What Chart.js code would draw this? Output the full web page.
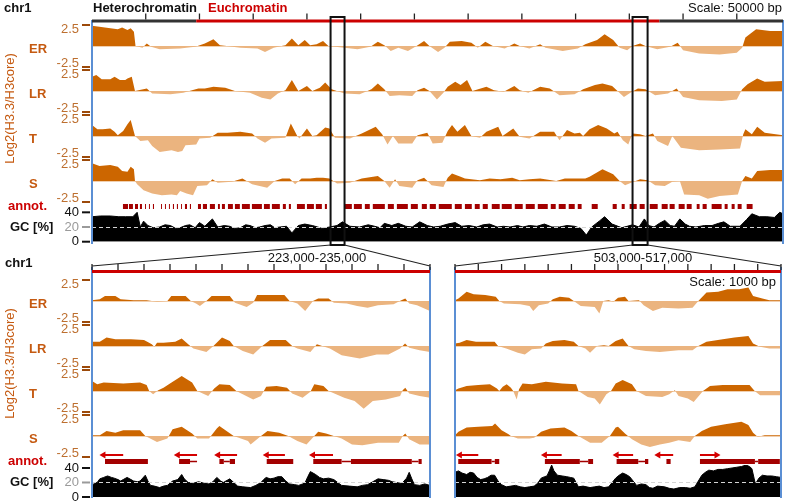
<!DOCTYPE html>
<html>
<head>
<meta charset="utf-8">
<script src="https://cdn.jsdelivr.net/npm/chart.js@4.4.1/dist/chart.umd.min.js"></script>
<style>
  body { margin: 0; background: #fff; }
  canvas { position: absolute; left: 0; top: 0; }
</style>
</head>
<body>
<canvas id="topPanel" width="787" height="501"></canvas>
<canvas id="zoomLeft" width="787" height="501"></canvas>
<canvas id="zoomRight" width="787" height="501"></canvas>
<script>
// ---- data (positions in kb, values in log2 / GC %) ----
const trackNames = ['ER', 'LR', 'T', 'S'];

const topRange = [0, 643];
const topTicks = [50, 100, 150, 200, 250, 300, 350, 400, 450, 500, 550, 600];
const topRuler = [[0, 97, '#333333'], [97, 528, '#cc0000'], [528, 643, '#333333']];
const zoomRegions = [[222, 235], [503, 517]];

const topER = [[0,2.4],[12,2.2],[24,2.0],[28,2.2],[33,1.9],[36,2.1],[39,1.7],[40.5,0],[47,-0.2],[51,0.3],[55,-0.1],[63,-0.4],[82,-0.3],[96,-0.1],[105,0.3],[113,0.8],[119,0.1],[138,-0.2],[154,-0.3],[161,-0.7],[169,-0.2],[180,0.1],[186,0.9],[192,0.1],[198,0.7],[203,0.1],[209,0.2],[215,0.6],[220,0],[235,-0.2],[247,-0.4],[259,-0.1],[266,0.5],[272,0.1],[278,-0.6],[285,-0.2],[294,-0.6],[302,0],[309,0.6],[314,0],[322,-0.7],[328,-0.2],[333,0.5],[344,0.6],[353,0.4],[359,-0.2],[366,0.5],[373,0],[384,-0.3],[393,0.3],[398,0],[407,-0.3],[417,0.2],[422,-0.2],[438,-0.6],[452,-0.3],[459,0.2],[470,0.7],[477,1.4],[485,0.7],[491,-0.2],[498,-0.5],[503,0],[510,0.3],[515,0],[526,-0.4],[538,-0.1],[545,0.4],[550,-0.5],[565,-0.9],[584,-1.0],[600,-0.8],[605,-0.2],[608,1.0],[618,2.0],[631,1.8],[643,1.8]];
const topLR = [[0,1.7],[4,1.9],[9,1.4],[17,1.4],[21,1.7],[26,1.3],[31,1.3],[33,1.5],[37,1.7],[40,0],[51,0.3],[56,-0.3],[73,-0.4],[85,-0.2],[99,0.3],[105,0.3],[113,0.5],[124,0.4],[133,0],[147,-0.2],[158,-0.8],[166,-1.0],[173,-0.3],[180,0.1],[186,1.3],[192,0],[200,0.6],[205,0],[212,0.4],[217,1.0],[223,0.2],[235,-0.3],[249,-0.4],[260,0.2],[266,0.9],[272,0.2],[277,-0.6],[286,-0.5],[298,-0.6],[303,0.1],[309,0.4],[314,0],[321,-1.0],[327,-0.2],[331,0.5],[338,1.1],[343,0.7],[349,1.3],[354,0],[367,0.5],[374,0.1],[383,-0.1],[393,0.6],[398,0.1],[406,-0.2],[417,0.5],[426,0.3],[435,-0.5],[449,-0.4],[457,0.2],[468,0.7],[475,0.9],[484,0.6],[489,0],[495,-0.7],[501,-0.2],[508,0.3],[515,0.2],[524,-0.5],[536,-0.3],[544,0.3],[550,-0.7],[565,-1.1],[586,-1.2],[600,-1.0],[605,0.2],[610,0.8],[619,1.5],[626,1.1],[643,1.2]];
const topT = [[0,1.3],[5,0.8],[10,0.8],[17,0.9],[21,0.5],[24,0.1],[29,0.6],[33,1.4],[36,1.9],[40,0],[45,-0.6],[52,-0.5],[56,-1.2],[63,-1.9],[74,-1.7],[80,-1.9],[84,-1.8],[87,-1.1],[97,-1.0],[100,-0.3],[110,-0.2],[117,0.4],[126,0.4],[138,0.5],[149,0.3],[154,-0.3],[161,-0.8],[167,-0.3],[180,-0.2],[185,1.5],[191,0],[193,-0.3],[200,0.9],[205,0],[209,0.1],[217,1.0],[221,0.9],[226,-0.2],[240,-0.3],[251,0.3],[264,1.1],[270,0.2],[275,-1.0],[280,0],[285,-0.9],[298,-0.9],[303,0.1],[312,0.4],[317,-0.9],[326,-0.8],[331,0.6],[335,1.3],[340,0.5],[347,1.3],[353,0],[361,-0.2],[367,0.5],[378,1.1],[382,0],[392,0.9],[398,-0.1],[407,-0.3],[417,0.5],[430,0.5],[435,-0.5],[442,0.7],[449,0.3],[454,0.4],[457,0],[463,0.8],[471,1.3],[479,0.9],[486,0.3],[489,0.5],[494,-0.5],[499,-1.0],[503,0.3],[510,0.2],[515,0],[522,0.3],[526,-0.6],[536,-1.2],[540,0],[548,-1.4],[565,-1.7],[584,-1.6],[603,-1.5],[606,0.2],[608,0.8],[614,0.2],[619,1.1],[626,0.4],[643,0.1]];
const topS = [[0,2.1],[7,1.8],[17,1.9],[24,1.7],[28,1.2],[33,1.1],[36,1.7],[39,1.4],[40,0],[42,-0.4],[48,-1.1],[56,-1.5],[65,-1.7],[74,-1.6],[79,-1.7],[82,-1.2],[88,-1.5],[94,-1.7],[98,-0.6],[107,-0.5],[112,0.2],[117,-0.2],[130,-0.1],[140,0.3],[149,-0.4],[156,-0.6],[163,-0.8],[170,0],[177,0.3],[184,0.3],[189,-0.4],[195,0.3],[203,0.3],[209,0.4],[215,0.4],[221,0.3],[228,-0.3],[240,-0.2],[251,0.3],[266,0.6],[272,0],[277,-0.8],[282,0.2],[286,-0.6],[298,-0.8],[303,0.1],[309,0.4],[316,-0.5],[327,-0.7],[331,0.4],[335,0.9],[343,0.5],[347,0.3],[361,0.1],[370,0.3],[380,0.2],[391,0.4],[398,0.1],[407,0.2],[417,0.3],[432,0],[440,0.3],[459,0.3],[463,0.5],[475,1.4],[485,0.8],[491,0],[496,-0.5],[500,-0.3],[510,0.2],[517,0.1],[524,-0.5],[533,-0.6],[540,-0.1],[547,0],[551,-1.6],[565,-1.7],[573,-2.1],[584,-1.8],[601,-1.6],[605,0],[608,0.6],[614,0.3],[619,1.2],[631,1.3],[643,1.3]];
const topGC = [[0,34],[8,35],[17,35],[25,34],[31,34],[38,34],[42,40],[45,20],[48,28],[52,22],[57,19],[63,20],[68,23],[73,22],[78,18],[82,19],[87,22],[91,23],[96,19],[100,26],[105,21],[112,31],[117,20],[123,22],[128,21],[133,18],[138,19],[143,23],[147,22],[152,19],[156,20],[161,22],[166,23],[170,19],[175,20],[181,21],[186,12],[192,22],[198,24],[205,22],[210,20],[214,18],[221,20],[228,22],[233,27],[240,21],[249,20],[257,23],[263,21],[268,19],[272,25],[279,22],[285,25],[292,21],[298,20],[305,27],[312,22],[318,20],[324,21],[331,24],[338,26],[344,21],[351,22],[358,20],[364,23],[370,24],[377,20],[383,21],[389,20],[396,22],[401,20],[407,22],[414,21],[421,24],[428,20],[435,20],[442,22],[449,21],[455,18],[460,9],[465,20],[472,28],[477,34],[484,24],[493,19],[498,21],[503,23],[509,20],[514,31],[518,22],[523,20],[528,25],[533,29],[538,22],[542,21],[547,31],[552,24],[556,21],[562,20],[570,22],[577,22],[583,25],[588,27],[594,21],[603,21],[609,30],[614,38],[621,34],[628,34],[635,33],[640,40],[643,38]];
const topGenes = [[28.8,33.5],[34.4,38.1],[40,42.8],[44.6,46.5],[49.3,50.2],[53,53.9],[56.7,57.7],[60.5,61.4],[64.2,65.1],[67.9,68.8],[71.6,72.5],[75.3,76.3],[79,80],[82.8,83.7],[86.5,88.4],[91.1,92.1],[98.6,101.4],[103.2,107],[109.7,114.4],[117.2,119],[120.9,123.7],[126.5,131.1],[133,137.6],[139.5,146.9],[148.8,158.1],[160,165.5],[167.4,174.8],[177.6,180.4],[183.2,185.1],[190.7,198.1],[200,206.5],[208.3,213.9],[216.7,218.6],[235.3,241.8],[243.7,251.1],[253.9,258.5],[261.3,272.5],[275.3,280.9],[283.7,293.9],[296.7,303.2],[306.9,311.6],[314.3,320],[322.7,334.8],[337.6,344.1],[347,353.4],[356.2,360.8],[363.6,368.3],[372,379.4],[381.3,390.6],[393.4,400.8],[403.6,412],[414.8,424.1],[426.9,431.5],[434.3,440.8],[443.6,449.2],[452,455.6],[465,470.6],[484.5,488.3],[492.9,495.7],[500.3,506.9],[509.6,514.3],[519,526.4],[530.1,535.7],[537.5,542.2],[545.9,551.5],[553.4,558],[562.7,565.4],[568.2,572],[576.6,585.9],[588.7,591.5],[595.2,598],[600.8,604.5],[609.2,614.7]];

// zoom 1: 223,000-235,000
const leftTicks = [222, 223, 224, 225, 226, 227, 228, 229, 230, 231, 232, 233, 234, 235];
const leftER = [[222.0,0.1],[222.3,0.2],[222.5,0.6],[222.9,0.6],[223.1,0.2],[223.6,0.1],[224.1,0.1],[224.5,-0.1],[224.9,0],[225.05,0.6],[225.6,0.6],[225.8,0],[226.0,-0.3],[226.15,-0.6],[226.4,0],[226.6,0.6],[227.3,0.6],[227.5,-0.2],[227.95,-0.7],[228.2,-0.2],[228.35,0.7],[229.4,0.7],[229.6,0],[229.9,-0.3],[230.2,-1.2],[230.5,0],[230.7,0.3],[231.1,0.3],[231.3,-0.2],[231.8,-0.3],[232.2,-0.6],[232.6,-0.8],[233.0,-0.5],[233.6,-0.4],[233.9,0.1],[234.05,0.3],[234.2,-0.3],[234.5,-0.5],[235.0,-1.2]];
const leftLR = [[222.0,0.5],[222.3,0.5],[222.56,1.0],[222.9,0.8],[223.5,0.8],[224.0,0.7],[224.3,0.2],[224.4,-0.1],[224.5,0.4],[224.75,0.4],[225.2,0.5],[225.45,0.9],[225.7,0.2],[225.9,-0.3],[226.15,-0.5],[226.4,-0.7],[226.67,0],[227.0,1.0],[227.3,0.6],[227.45,0],[227.8,-0.6],[228.2,-1.0],[228.55,0],[228.85,0.7],[229.45,0.7],[229.7,0],[229.9,-0.3],[230.4,-0.7],[230.65,0.2],[230.85,0],[231.15,-0.3],[231.6,-1.1],[232.3,-1.5],[232.95,-1.0],[233.4,-1.0],[233.85,-0.3],[234.04,0.3],[234.2,-0.2],[234.6,-0.5],[235.0,-0.7]];
const leftT = [[222.0,1.2],[222.2,0.8],[222.45,1.0],[223.2,0.9],[223.85,1.0],[224.1,0.7],[224.2,0],[224.35,-0.4],[224.55,0.1],[224.75,0.4],[225.0,0.9],[225.45,1.8],[225.85,1.0],[226.05,0],[226.47,-0.6],[226.7,0.3],[226.9,0.8],[227.3,0.7],[227.55,0],[228.2,-1.0],[228.5,-0.6],[228.7,0.5],[229.1,0.6],[229.5,0.4],[229.7,-0.3],[230.1,-0.8],[230.4,-0.1],[230.55,0.8],[230.9,0.6],[231.1,0],[231.7,-0.8],[232.1,-1.2],[232.45,-2.1],[232.8,-1.2],[233.3,-1.0],[233.85,-0.6],[233.95,0.1],[234.05,0.4],[234.2,-0.3],[234.6,-0.6],[235.0,-0.8]];
const leftS = [[222.0,0.1],[222.3,0.1],[222.56,0.6],[222.9,0.4],[223.2,0.7],[223.85,0.7],[224.05,0],[224.5,-0.7],[224.9,-0.3],[225.1,0.8],[225.45,1.1],[225.85,0.3],[226.05,-0.3],[226.5,-0.3],[226.8,0.9],[226.9,1.2],[227.45,0],[228.0,-0.6],[228.1,-1.0],[228.5,0],[228.75,0.6],[229.2,0.4],[229.55,0],[229.9,-0.6],[230.25,-1.0],[230.55,0],[230.7,0.5],[231.0,0.3],[231.3,0],[231.6,-0.3],[232.0,-1.0],[232.4,-1.1],[233.0,-0.8],[233.8,-0.8],[233.95,0],[234.05,0.3],[234.2,-0.4],[234.6,-1.0],[235.0,-1.0]];
const leftGC = [[222.0,16],[222.1,19],[222.2,20],[222.3,25],[222.45,27],[222.6,29],[222.75,27],[222.85,26],[223.0,24],[223.1,22],[223.2,24],[223.35,27],[223.5,24],[223.6,22],[223.75,21],[223.85,22],[224.05,30],[224.15,22],[224.25,16],[224.4,15],[224.6,13],[224.75,15],[224.9,16],[225.0,19],[225.1,22],[225.3,24],[225.45,31],[225.55,25],[225.7,20],[225.9,19],[226.1,21],[226.3,19],[226.5,18],[226.65,21],[226.8,27],[226.95,22],[227.05,20],[227.2,23],[227.3,25],[227.45,20],[227.6,15],[227.8,14],[228.1,13],[228.3,16],[228.5,20],[228.6,24],[228.7,27],[228.85,25],[229.0,26],[229.15,28],[229.3,28],[229.45,22],[229.6,18],[229.8,17],[229.95,16],[230.1,18],[230.2,20],[230.3,28],[230.4,35],[230.5,33],[230.6,31],[230.75,27],[230.9,25],[231.1,26],[231.3,24],[231.45,20],[231.6,16],[231.9,15],[232.2,14],[232.4,16],[232.6,17],[232.8,21],[233.0,25],[233.2,24],[233.4,23],[233.55,21],[233.7,20],[233.85,19],[233.95,20],[234.1,26],[234.2,34],[234.3,25],[234.4,17],[234.6,16],[234.8,18],[235.0,16]];
const leftExons = [[222.5,224.15],[225.35,225.77],[226.9,227.07],[227.3,227.5],[228.72,229.74],[230.51,231.6],[231.96,234.3],[234.56,234.68]];
const leftIntrons = [[225.77,226.04],[227.07,227.3],[231.6,231.96],[234.3,234.56]];
const leftArrows = [[223.2,222.44],[226.04,225.3],[227.58,226.85],[229.42,228.72],[231.27,230.5]];

// zoom 2: 503,000-517,000
const rightTicks = [503, 504, 505, 506, 507, 508, 509, 510, 511, 512, 513, 514, 515, 516, 517];
const rightER = [[503.0,0.1],[503.15,0.3],[503.5,1.1],[503.8,0.8],[504.3,0.7],[504.75,0.5],[504.9,0],[505.1,-0.3],[505.8,-0.4],[506.2,-0.6],[506.36,-1.2],[506.6,-0.5],[507.0,-0.3],[507.2,0.2],[507.5,0.5],[507.9,0.4],[508.1,0],[508.4,-0.6],[509.0,-0.7],[509.2,-1.5],[509.37,0],[509.6,0.1],[509.8,-0.1],[510.0,0.4],[510.3,0.5],[510.45,0],[510.9,0.1],[511.1,-0.5],[511.5,-1.2],[511.9,-0.8],[512.6,-0.9],[513.2,-0.8],[513.45,0],[513.8,1.0],[514.3,1.1],[514.7,1.4],[515.2,1.4],[515.6,1.6],[515.8,0.6],[516.2,0.3],[516.5,0.1],[517.0,0.1]];
const rightLR = [[503.0,0.3],[503.2,0.4],[503.5,0.7],[503.9,0.5],[504.7,0.5],[504.85,0],[505.2,-0.3],[505.7,-0.8],[506.0,-1.0],[506.3,-0.4],[506.7,-0.3],[506.9,0.3],[507.2,0.6],[507.7,0.7],[508.1,0.5],[508.3,0],[508.6,-0.3],[508.8,-0.8],[509.1,0],[509.4,0.1],[509.6,0],[509.9,0.6],[510.2,0.9],[510.45,0],[510.7,-0.4],[511.2,-0.6],[511.8,-0.7],[512.6,-0.5],[513.2,-0.5],[513.45,0],[513.8,0.5],[514.5,0.8],[515.0,1.0],[515.6,1.2],[515.8,0.3],[516.1,-0.1],[516.5,-0.3],[517.0,-0.3]];
const rightT = [[503.0,0.1],[503.15,0.3],[503.5,0.6],[504.0,0.7],[504.5,0.8],[504.8,0.3],[504.9,0],[505.05,0.5],[505.22,0.8],[505.4,0.4],[505.5,0],[505.65,-1.0],[505.75,0.2],[505.9,0.9],[506.3,0.8],[506.9,1.1],[507.6,0.9],[508.2,0.8],[508.3,0],[508.7,-0.7],[509.0,-0.9],[509.22,-1.6],[509.5,-0.4],[509.7,0],[509.9,0.9],[510.2,1.3],[510.6,0.8],[510.8,0],[511.2,-0.6],[511.9,-0.7],[512.2,-0.4],[512.44,0.1],[512.6,-0.6],[513.0,-0.9],[513.25,-1.3],[513.65,0],[513.95,0.6],[514.5,0.7],[515.2,0.7],[515.65,0.7],[515.87,0],[516.1,-0.5],[517.0,-0.5]];
const rightS = [[503.0,0.1],[503.15,0.5],[503.5,1.0],[504.0,1.1],[504.6,1.2],[504.72,1.5],[505.0,0.7],[505.3,0.2],[505.4,0],[505.7,-0.3],[506.2,-0.3],[506.4,-0.2],[506.7,0.5],[507.1,0.9],[507.7,1.0],[508.0,0.6],[508.3,0],[508.8,-0.8],[509.3,-0.8],[509.65,0],[509.9,1.0],[510.0,1.1],[510.3,0.3],[510.6,-0.4],[511.0,-1.0],[511.37,-1.3],[511.8,-1.0],[512.2,-0.8],[512.6,-0.5],[513.1,-0.7],[513.3,0],[513.6,0.6],[514.0,1.1],[514.6,1.4],[515.3,1.7],[515.6,1.3],[515.8,0.4],[516.0,-0.1],[516.3,0.1],[517.0,0.1]];
const rightGC = [[503.0,34],[503.15,36],[503.3,33],[503.5,31],[503.65,34],[503.8,33],[503.95,27],[504.1,24],[504.25,25],[504.4,27],[504.55,30],[504.7,30],[504.85,22],[505.0,17],[505.2,14],[505.4,15],[505.6,16],[505.8,14],[506.0,13],[506.2,14],[506.4,15],[506.55,19],[506.7,26],[506.85,28],[506.95,29],[507.05,36],[507.15,44],[507.25,36],[507.4,30],[507.6,29],[507.8,28],[507.95,27],[508.1,26],[508.3,14],[508.5,15],[508.8,13],[509.0,14],[509.2,15],[509.4,13],[509.6,14],[509.75,20],[509.9,26],[510.05,30],[510.2,33],[510.35,31],[510.5,28],[510.65,22],[510.8,16],[511.0,18],[511.2,17],[511.35,13],[511.5,12],[511.7,15],[512.0,14],[512.2,12],[512.4,11],[512.65,13],[512.9,13],[513.1,12],[513.3,14],[513.45,22],[513.6,30],[513.75,34],[513.9,37],[514.1,36],[514.3,38],[514.5,38],[514.7,39],[514.9,40],[515.1,41],[515.3,42],[515.5,44],[515.65,42],[515.75,39],[515.85,25],[515.9,18],[516.05,26],[516.2,30],[516.4,29],[516.6,29],[516.8,28],[517.0,27]];
const rightExons = [[503.14,504.57],[504.71,504.9],[506.86,508.36],[508.72,508.93],[509.94,510.87],[511.16,511.3],[512.08,512.26],[513.52,515.88],[516.02,516.95]];
const rightIntrons = [[504.57,504.71],[508.36,508.72],[510.87,511.16],[515.88,516.02]];
const rightArrows = [[504.0,503.21],[507.58,506.86],[510.65,509.94],[512.37,511.73],[513.52,514.23]];

// ---- styles ----
const POS = '#cc6600';
const NEG = '#ebb47f';
const BLUE = '#5b8fd4';
const GENE = '#a30000';
const FONT = '"Liberation Sans", Arial, sans-serif';
const NAME_COLOR = '#c55a11';
const TICK_COLOR = '#bd6f2f';

function pts(arr) { return arr.map(([x, y]) => ({ x, y })); }
function segs(list, v) {
  const out = [];
  list.forEach(([a, b]) => { out.push({ x: a, y: v }, { x: b, y: v }, { x: b, y: null }); });
  return out;
}

function text(ctx, s, x, y, font, color, align) {
  ctx.font = font;
  ctx.fillStyle = color;
  ctx.textAlign = align || 'left';
  ctx.textBaseline = 'middle';
  ctx.fillText(s, x, y);
}
function line(ctx, x1, y1, x2, y2) {
  ctx.beginPath(); ctx.moveTo(x1, y1); ctx.lineTo(x2, y2); ctx.stroke();
}

function makeDecor(p) {
  return {
    id: 'decor',
    beforeDatasetsDraw(chart) {
      // faint zero baseline under each track
      const ctx = chart.ctx, a = chart.chartArea;
      ctx.save();
      ctx.strokeStyle = '#f1cfae';
      ctx.lineWidth = 1;
      trackNames.forEach(n => {
        const z = Math.round(chart.scales['y' + n].getPixelForValue(0)) + 0.5;
        line(ctx, a.left, z, a.right, z);
      });
      ctx.restore();
    },
    afterDatasetsDraw(chart) {
      const ctx = chart.ctx, a = chart.chartArea, xs = chart.scales.x;
      ctx.save();
      // GC 20% dashed guide
      const g20 = chart.scales.yGC.getPixelForValue(20);
      ctx.setLineDash([4, 3]);
      ctx.strokeStyle = '#d4d4d4';
      ctx.lineWidth = 1;
      line(ctx, a.left, Math.round(g20) + 0.5, a.right, Math.round(g20) + 0.5);
      ctx.setLineDash([]);

      // blue frame
      ctx.strokeStyle = BLUE;
      ctx.lineWidth = 2;
      line(ctx, a.left, p.frameTop, a.left, p.frameBottom);
      line(ctx, a.right, p.frameTop, a.right, p.frameBottom);

      // ruler
      ctx.lineWidth = 3;
      p.ruler.forEach(([s, e, c]) => {
        ctx.strokeStyle = c;
        line(ctx, xs.getPixelForValue(s), p.rulerY, xs.getPixelForValue(e), p.rulerY);
      });
      ctx.strokeStyle = '#222';
      ctx.lineWidth = 1.3;
      p.ticks.forEach(t => {
        const px = xs.getPixelForValue(t);
        line(ctx, px, p.rulerY - 1.5, px, p.rulerY - 1.5 - p.tickLen);
      });

      // left axis labels
      if (p.labels) {
        trackNames.forEach(n => {
          const s = chart.scales['y' + n];
          const z = s.getPixelForValue(0), hi = s.getPixelForValue(2.5), lo = s.getPixelForValue(-2.5);
          text(ctx, n, 29, z + 3, 'bold 13px ' + FONT, NAME_COLOR, 'left');
          ctx.strokeStyle = '#9c4a0a';
          ctx.lineWidth = 2;
          line(ctx, 82, hi, 90, hi);
          line(ctx, 82, lo, 90, lo);
          text(ctx, '2.5', 79, hi + 4, '13px ' + FONT, TICK_COLOR, 'right');
          text(ctx, '-2.5', 79, lo - 4, '13px ' + FONT, TICK_COLOR, 'right');
        });
        const ann = chart.scales.yAnn.getPixelForValue(p.annotLabelV);
        text(ctx, 'annot.', 8, ann, 'bold 13px ' + FONT, '#cc0000', 'left');
        const gc = chart.scales.yGC;
        [[40, '#111'], [20, '#9a9a9a'], [0, '#111']].forEach(([v, c]) => {
          const y = gc.getPixelForValue(v);
          ctx.strokeStyle = c;
          ctx.lineWidth = 2;
          line(ctx, 82, y, 90, y);
          text(ctx, String(v), 79, y, '13px ' + FONT, c, 'right');
        });
        text(ctx, 'GC [%]', 10, g20, 'bold 13px ' + FONT, '#111', 'left');
        const yTop = chart.scales.yER.getPixelForValue(2.5), yBot = chart.scales.yS.getPixelForValue(-2.5);
        ctx.save();
        ctx.translate(10, (yTop + yBot) / 2 - 5);
        ctx.rotate(-Math.PI / 2);
        text(ctx, 'Log2(H3.3/H3core)', 0, 0, '13px ' + FONT, NAME_COLOR, 'center');
        ctx.restore();
      }
      (p.texts || []).forEach(t => text(ctx, t[0], t[1], t[2], t[3], t[4], t[5]));
      if (p.after) p.after(chart, ctx);
      ctx.restore();
    }
  };
}

function makePanel(id, p) {
  const ids = ['yER', 'yLR', 'yT', 'yS', 'yAnn', 'yGC'];
  const ranges = [[-2.68, 2.68], [-2.68, 2.68], [-2.68, 2.68], [p.sMin, 2.68], [0, 1], [0, p.gcMax]];
  const scales = { x: { type: 'linear', min: p.xMin, max: p.xMax, display: false } };
  ids.forEach((k, i) => {
    scales[k] = { type: 'linear', position: 'right', stack: 'tracks', stackWeight: p.bands[i],
                  min: ranges[i][0], max: ranges[i][1], display: false };
  });

  const datasets = p.tracks.map((arr, i) => ({
    data: pts(arr), yAxisID: ids[i],
    fill: { target: 'origin', above: POS, below: NEG },
    borderColor: 'transparent', borderWidth: 0, pointRadius: 0, tension: 0
  }));
  datasets.push({
    data: pts(p.gc), yAxisID: 'yGC', fill: 'origin',
    backgroundColor: '#000', borderColor: '#000', borderWidth: 1, pointRadius: 0, tension: 0
  });
  datasets.push({
    data: segs(p.exons, p.exonV), yAxisID: 'yAnn', fill: false,
    borderColor: GENE, borderWidth: p.exonW, borderCapStyle: 'butt', pointRadius: 0
  });
  if (p.introns) {
    datasets.push({
      data: segs(p.introns, p.exonV), yAxisID: 'yAnn', fill: false,
      borderColor: GENE, borderWidth: 1.5, pointRadius: 0
    });
  }
  if (p.arrows) {
    const data = [], radius = [], rot = [];
    p.arrows.forEach(([tail, head]) => {
      data.push({ x: tail, y: p.arrowV }, { x: head, y: p.arrowV }, { x: head, y: null });
      radius.push(0, 4, 0);
      rot.push(0, head < tail ? 270 : 90, 0);
    });
    datasets.push({
      data, yAxisID: 'yAnn', fill: false, borderColor: '#d40000', borderWidth: 2,
      pointStyle: 'triangle', pointRadius: radius, pointRotation: rot,
      pointBackgroundColor: '#d40000', pointBorderWidth: 0
    });
  }

  return new Chart(document.getElementById(id), {
    type: 'line',
    data: { datasets },
    options: {
      responsive: false, animation: false, devicePixelRatio: 1, events: [],
      layout: { padding: p.padding },
      scales,
      plugins: { legend: { display: false }, tooltip: { enabled: false } }
    },
    plugins: [makeDecor(p)]
  });
}

const topChart = makePanel('topPanel', {
  xMin: topRange[0], xMax: topRange[1],
  padding: { left: 92, right: 4, top: 23.5, bottom: 259.3 },
  bands: [45, 45, 45, 45, 7.5, 30.7], sMin: -2.68, gcMax: 41.8,
  tracks: [topER, topLR, topT, topS], gc: topGC,
  exons: topGenes, exonV: 0.6, exonW: 5, annotLabelV: 0.6,
  ruler: topRuler, ticks: topTicks, rulerY: 21, tickLen: 6,
  frameTop: 20, frameBottom: 244, labels: true,
  texts: [
    ['chr1', 4, 8, 'bold 13px ' + FONT, '#111', 'left'],
    ['Heterochromatin', 93, 8, 'bold 13px ' + FONT, '#111', 'left'],
    ['Euchromatin', 208, 8, 'bold 13px ' + FONT, '#cc0000', 'left'],
    ['Scale: 50000 bp', 782, 8, '13px ' + FONT, '#111', 'right']
  ],
  after(chart, ctx) {
    const xs = chart.scales.x;
    ctx.strokeStyle = '#111';
    ctx.lineWidth = 2;
    zoomRegions.forEach(([s, e]) => {
      const x1 = xs.getPixelForValue(s), x2 = xs.getPixelForValue(e);
      ctx.strokeRect(x1, 17, x2 - x1, 228);
    });
  }
});

function connectors(region) {
  return function (chart, ctx) {
    const a = chart.chartArea, tx = topChart.scales.x;
    ctx.strokeStyle = '#222';
    ctx.lineWidth = 1.2;
    line(ctx, tx.getPixelForValue(region[0]), 245, a.left, 266);
    line(ctx, tx.getPixelForValue(region[1]), 245, a.right, 266);
  };
}

makePanel('zoomLeft', {
  xMin: 222, xMax: 235,
  padding: { left: 92, right: 357, top: 278.5, bottom: 4 },
  bands: [45, 45, 45, 37.5, 14, 32], sMin: -1.784, gcMax: 44.1,
  tracks: [leftER, leftLR, leftT, leftS], gc: leftGC,
  exons: leftExons, introns: leftIntrons, arrows: leftArrows,
  exonV: 0.25, exonW: 5, arrowV: 0.71, annotLabelV: 0.25,
  ruler: [[222, 235, '#cc0000']], ticks: leftTicks, rulerY: 271.5, tickLen: 6,
  frameTop: 267, frameBottom: 498, labels: true,
  texts: [
    ['chr1', 5, 263, 'bold 13px ' + FONT, '#111', 'left'],
    ['223,000-235,000', 317, 258, '13px ' + FONT, '#111', 'center']
  ],
  after: connectors(zoomRegions[0])
});

makePanel('zoomRight', {
  xMin: 503, xMax: 517,
  padding: { left: 455, right: 6, top: 278.5, bottom: 4 },
  bands: [45, 45, 45, 37.5, 14, 32], sMin: -1.784, gcMax: 44.1,
  tracks: [rightER, rightLR, rightT, rightS], gc: rightGC,
  exons: rightExons, introns: rightIntrons, arrows: rightArrows,
  exonV: 0.25, exonW: 5, arrowV: 0.71, annotLabelV: 0.25,
  ruler: [[503, 517, '#cc0000']], ticks: rightTicks, rulerY: 271.5, tickLen: 6,
  frameTop: 267, frameBottom: 498, labels: false,
  texts: [
    ['503,000-517,000', 643, 258, '13px ' + FONT, '#111', 'center'],
    ['Scale: 1000 bp', 776, 282, '13px ' + FONT, '#111', 'right']
  ],
  after: connectors(zoomRegions[1])
});
</script>
</body>
</html>
